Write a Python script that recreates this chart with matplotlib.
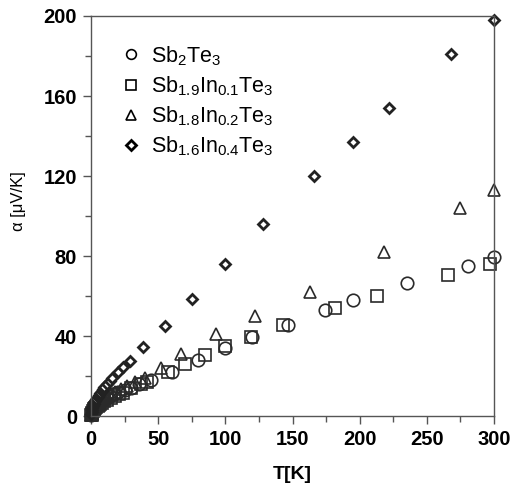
import matplotlib
matplotlib.use("Agg")
import matplotlib.pyplot as plt
from matplotlib.ticker import MultipleLocator

plt.rcParams['font.family'] = ['Liberation Sans', 'DejaVu Sans']
plt.rcParams['mathtext.fontset'] = 'custom'
plt.rcParams['mathtext.rm'] = 'Liberation Sans'
plt.rcParams['mathtext.it'] = 'Liberation Sans'

# Sb2Te3 (circles)
t_c = [0.3, 0.5, 0.8, 1, 1.5, 2, 2.5, 3, 4, 5, 6, 7, 8, 10, 12, 14, 17, 20, 25, 30, 36, 45, 60, 80, 100, 120, 147, 174, 195, 235, 281, 300]
a_c = [0.5, 1, 1.5, 2, 3, 3.5, 4, 4.5, 5.5, 6, 6.5, 7, 7.5, 8.5, 9, 10, 11, 12, 13, 14, 16, 18, 22, 28, 34, 39.5, 45.5, 53, 58, 66.5, 75, 79.5]
# Sb1.9In0.1Te3 (squares)
t_s = [0.3, 0.5, 0.8, 1, 1.5, 2, 2.5, 3, 4, 5, 6, 7, 8, 10, 12, 15, 18, 21, 24, 30, 37, 42, 57, 70, 85, 100, 119, 143, 182, 213, 266, 297]
a_s = [0.3, 0.5, 1, 1.5, 2.5, 3, 3.5, 4, 4.5, 5, 5.5, 6, 6.5, 7.5, 8, 9, 10, 11, 11.5, 14, 16, 17, 22, 26, 30.5, 35, 39.5, 45.5, 54, 60, 70.5, 76]
# Sb1.8In0.2Te3 (triangles)
t_t = [0.3, 0.5, 0.8, 1, 1.5, 2, 2.5, 3, 4, 5, 6, 8, 10, 12, 15, 18, 22, 27, 33, 40, 52, 67, 93, 122, 163, 218, 275, 300]
a_t = [0.5, 1, 1.5, 2, 3, 4, 4.5, 5, 6, 6.5, 7, 8, 9, 10, 11, 12, 13.5, 15, 17, 19, 24, 31, 41, 50, 62, 82, 104, 113]
# Sb1.6In0.4Te3 (diamonds)
t_d = [0.3, 0.5, 0.8, 1, 1.5, 2, 2.5, 3, 4, 5, 6, 7, 8, 9, 10, 12, 14, 16, 20, 24, 29, 39, 55, 75, 100, 128, 166, 195, 222, 268, 300]
a_d = [1, 2, 3, 4, 5, 6, 7, 7.5, 8.5, 9.5, 10.5, 11.5, 12.5, 13.5, 14.5, 16, 17.5, 19, 22, 24.5, 27.5, 34.5, 45, 58.5, 76, 96, 120, 137, 154, 181, 198]

labels = [r'Sb$_\mathregular{2}$Te$_\mathregular{3}$',
          r'Sb$_\mathregular{1.9}$In$_\mathregular{0.1}$Te$_\mathregular{3}$',
          r'Sb$_\mathregular{1.8}$In$_\mathregular{0.2}$Te$_\mathregular{3}$',
          r'Sb$_\mathregular{1.6}$In$_\mathregular{0.4}$Te$_\mathregular{3}$']

fig = plt.figure(figsize=(5.15, 4.86), dpi=100)
ax = fig.add_axes([91/515, 70/486, 403/515, 400/486])

ec = '#2a2a2a'
ax.plot(t_c, a_c, 'o', ms=9, mfc='none', mec=ec, mew=1.2, clip_on=False, label=labels[0])
ax.plot(t_s, a_s, 's', ms=9, mfc='none', mec=ec, mew=1.2, clip_on=False, label=labels[1])
ax.plot(t_t, a_t, '^', ms=8.5, mfc='none', mec=ec, mew=1.2, clip_on=False, label=labels[2])
ax.plot(t_d, a_d, 'D', ms=5.5, mfc='white', mec='#222222', mew=2.0, clip_on=False, label=labels[3])

ax.set_xlim(0, 300)
ax.set_ylim(0, 200)
ax.xaxis.set_major_locator(MultipleLocator(50))
ax.xaxis.set_minor_locator(MultipleLocator(25))
ax.yaxis.set_major_locator(MultipleLocator(40))
ax.yaxis.set_minor_locator(MultipleLocator(20))
ax.tick_params(which='major', direction='out', length=6, width=1, color='#555555',
               labelsize=14.5, pad=4)
ax.tick_params(which='minor', direction='out', length=4, width=1, color='#555555')
for lab in ax.get_xticklabels() + ax.get_yticklabels():
    lab.set_fontweight('bold')
for sp in ax.spines.values():
    sp.set_color('#555555')
    sp.set_linewidth(1.0)

ax.set_xlabel('T[K]', fontsize=14, fontweight='bold', labelpad=12)
fig.text(18/515, 1 - 201/486, 'α [μV/K]', rotation=90, ha='center', va='center', fontsize=12)

leg = ax.legend(loc='upper left', bbox_to_anchor=(0.072, 0.93), frameon=False,
                fontsize=15.5, handletextpad=0.45, labelspacing=0.3, borderaxespad=0,
                borderpad=0, handlelength=1.0)
for h in leg.legend_handles:
    h.set_markersize(7 if h.get_marker() != 'D' else 5)
    h.set_markeredgecolor('black')

fig.savefig('out.png', dpi=100)
